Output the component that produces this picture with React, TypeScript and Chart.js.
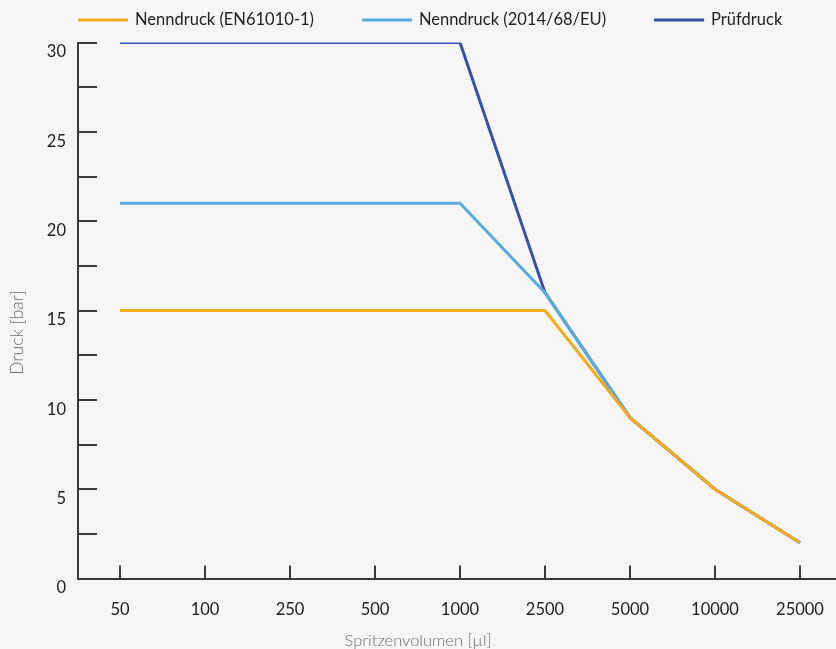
import React, { useEffect, useRef } from 'react';
import { Chart, registerables } from 'chart.js';
Chart.register(...registerables);

const categories = ['50', '100', '250', '500', '1000', '2500', '5000', '10000', '25000'];
const nennEN = [15, 15, 15, 15, 15, 15, 9, 5, 2];
const nennEU = [21, 21, 21, 21, 21, 16, 9, 5, 2];
const pruef = [30, 30, 30, 30, 30, 16, 9, 5, 2];
const seriesNames = ['Nenndruck (EN61010-1)', 'Nenndruck (2014/68/EU)', 'Prüfdruck'];
const seriesColors = ['#f7ab1b', '#58acdf', '#3651a9'];
const yTickValues = [0, 2.5, 5, 7.5, 10, 12.5, 15, 17.5, 20, 22.5, 25, 27.5, 30];
const yLabelValues = [0, 5, 10, 15, 20, 25, 30];
const xTitle = 'Spritzenvolumen [µl]';
const yTitle = 'Druck [bar]';

const FONT = 'Lato';
const AXIS_COLOR = '#3a3a3a';

const bgPlugin = {
  id: 'bg',
  beforeDraw(chart: any) {
    const { ctx, width, height } = chart;
    ctx.save();
    ctx.fillStyle = '#f6f6f6';
    ctx.fillRect(0, 0, width, height);
    ctx.restore();
  },
};

const tickMarkPlugin = {
  id: 'tickMarks',
  beforeDatasetsDraw(chart: any) {
    const { ctx, chartArea, scales } = chart;
    ctx.save();
    ctx.strokeStyle = AXIS_COLOR;
    ctx.lineWidth = 2;
    ctx.beginPath();
    scales.y.ticks.forEach((t: any) => {
      const py = Math.round(scales.y.getPixelForValue(t.value));
      ctx.moveTo(chartArea.left, py);
      ctx.lineTo(chartArea.left + 19, py);
    });
    scales.x.ticks.forEach((t: any) => {
      const px = Math.round(scales.x.getPixelForValue(t.value));
      ctx.moveTo(px, chartArea.bottom);
      ctx.lineTo(px, chartArea.bottom - 13);
    });
    ctx.stroke();
    ctx.restore();
  },
};

const legendPlugin = {
  id: 'customLegend',
  afterDraw(chart: any) {
    const { ctx, chartArea } = chart;
    ctx.save();
    ctx.font = `16.5px ${FONT}`;
    ctx.textBaseline = 'middle';
    ctx.textAlign = 'left';
    let cx = chartArea.left;
    const cy = 20;
    chart.data.datasets.forEach((ds: any) => {
      ctx.strokeStyle = ds.borderColor;
      ctx.lineWidth = 3;
      ctx.beginPath();
      ctx.moveTo(cx, cy);
      ctx.lineTo(cx + 50, cy);
      ctx.stroke();
      ctx.fillStyle = '#222';
      ctx.fillText(ds.label, cx + 57, cy);
      cx += 57 + ctx.measureText(ds.label).width + 48;
    });
    ctx.restore();
  },
};

export default function App() {
  const ref = useRef<HTMLCanvasElement>(null);
  useEffect(() => {
    document.body.style.margin = '0';
    document.body.style.background = '#f6f6f6';
    const tickFont = { family: FONT, size: 16.5, lineHeight: 1.2 };
    const chart = new Chart(ref.current!, {
      type: 'line',
      data: {
        datasets: [nennEN, nennEU, pruef].map((vals, i) => ({
          label: seriesNames[i],
          data: vals.map((y, x) => ({ x, y })),
          borderColor: seriesColors[i],
          backgroundColor: seriesColors[i],
          borderWidth: 3,
          pointRadius: 0,
          tension: 0,
          fill: false,
        })),
      },
      options: {
        responsive: false,
        animation: false,
        layout: { padding: { top: 16, right: 0, left: 0, bottom: 0 } },
        plugins: {
          legend: { display: false },
          tooltip: { enabled: false },
          title: {
            display: true,
            text: xTitle,
            position: 'bottom',
            color: '#6e6e6e',
            font: { family: FONT, size: 16.5, weight: '300', lineHeight: 1 },
            padding: 0,
          },
          subtitle: {
            display: true,
            text: yTitle,
            position: 'left',
            color: '#6e6e6e',
            font: { family: FONT, size: 17.5, weight: '300', lineHeight: 1.2 },
            padding: { top: 6.5, bottom: 0 },
          },
        },
        scales: {
          x: {
            type: 'linear',
            min: -0.494,
            max: 8.4235,
            grid: { display: false, drawTicks: false },
            border: { display: true, color: AXIS_COLOR, width: 2 },
            afterBuildTicks: (scale: any) => {
              scale.ticks = categories.map((_, i) => ({ value: i }));
            },
            afterFit: (scale: any) => {
              scale.height = 54;
              scale.paddingLeft = 0;
              scale.paddingRight = 0;
            },
            ticks: {
              color: '#222',
              font: tickFont,
              padding: 21,
              maxRotation: 0,
              autoSkip: false,
              callback: (v: any) => categories[v] ?? '',
            },
          },
          y: {
            min: 0,
            max: 30,
            grid: { display: false, drawTicks: false },
            border: { display: true, color: AXIS_COLOR, width: 2 },
            afterBuildTicks: (scale: any) => {
              scale.ticks = yTickValues.map((v) => ({ value: v }));
            },
            afterFit: (scale: any) => {
              scale.width = 78 - (17.5 * 1.2 + 6.5);
              scale.paddingTop = 42.5;
              scale.paddingBottom = 0;
            },
            ticks: {
              color: '#222',
              font: tickFont,
              padding: 12,
              labelOffset: 9.5,
              autoSkip: false,
              callback: (v: any) => (yLabelValues.includes(v) ? String(v) : ''),
            },
          },
        },
      } as any,
      plugins: [bgPlugin, tickMarkPlugin, legendPlugin],
    });
    return () => chart.destroy();
  }, []);
  return (
    <div style={{ position: 'relative', width: 836, height: 649 }}>
      <canvas ref={ref} width={836} height={649} style={{ display: 'block' }} />
    </div>
  );
}
